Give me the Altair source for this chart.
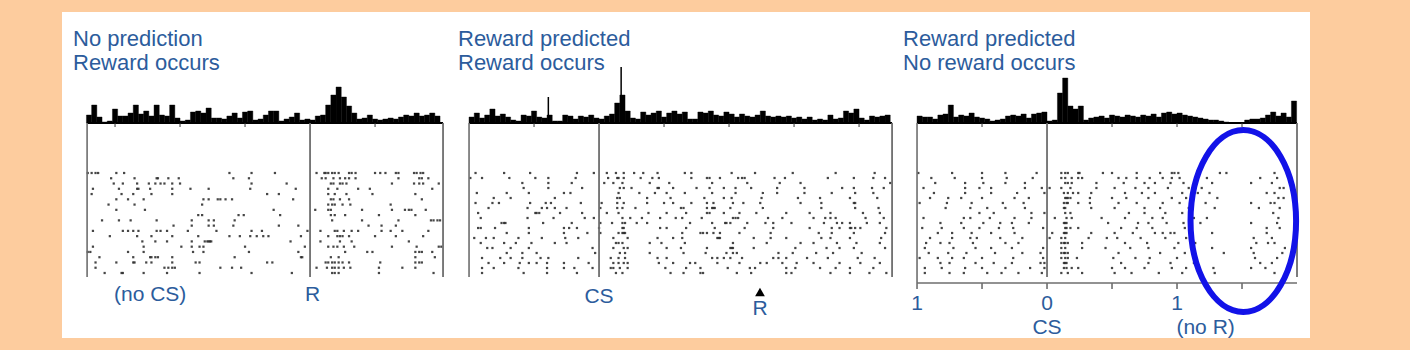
import altair as alt
import pandas as pd

PEACH = "#FDCC9E"
BLUE = "#2C5C9C"
FONT = "Liberation Sans"
BIN = 0.04

# ---------------- Panel 1: No prediction, reward occurs ----------------
P1_TITLE = ["No prediction", "Reward occurs"]
P1_DOMAIN = [-1.908, 1.115]
P1_EDGES = [-1.715, 1.023]
P1_EVENT = [0.0]
P1_BASE_TICKS = [-1.5, -1.0, -0.5, 0.5]
P1_LABELS = ["(no CS)", "R"]
P1_LABEL_T = [-1.23, 0.02]
P1_HIST_START = -1.72
P1_HIST = [8, 18, 6, 1, 2, 14, 7, 7, 10, 18, 9, 12, 7, 18, 8, 7, 18, 5, 2, 3,
           11, 12, 10, 15, 5, 5, 4, 7, 10, 5, 11, 12, 3, 4, 8, 12, 12, 2, 4, 6,
           10, 3, 4, 3, 7, 8, 18, 28, 36, 26, 17, 10, 4, 5, 8, 4, 3, 4, 5, 4,
           6, 8, 7, 10, 7, 8, 10, 7]
P1_ROWS = [
    [-1.71, -1.68, -1.65, -1.63, -1.49, -1.43, -0.62, -0.45, -0.27, 0.05, 0.11, 0.12, 0.14, 0.17, 0.19, 0.22, 0.30, 0.32, 0.35, 0.50, 0.54, 0.58, 0.66, 0.68, 0.80, 0.82, 0.85, 0.87],
    [-1.53, -1.35, -1.18, -1.17, -1.09, -1.01, -0.59, -0.47, 0.09, 0.12, 0.18, 0.23, 0.27, 0.30, 0.35, 0.68, 0.84, 0.86, 0.91],
    [-1.51, -1.44, -1.33, -1.24, -1.19, -1.15, -1.12, -1.06, -1.00, -0.45, -0.18, 0.16, 0.18, 0.23, 0.25, 0.28, 0.63, 0.80, 0.84, 0.87, 0.99],
    [-1.67, -1.47, -1.33, -1.32, -1.23, -1.06, -0.92, -0.78, -0.46, -0.11, 0.14, 0.21, 0.37, 0.46, 0.94],
    [-1.68, -1.45, -1.36, -1.22, -1.06, -0.33, -0.24, 0.14, 0.19, 0.28, 0.48, 0.81],
    [-1.49, -1.40, -1.28, -0.82, -0.78, -0.71, -0.69, -0.65, -0.60, -0.13, 0.16, 0.18, 0.23, 0.30, 0.86],
    [-1.55, -1.35, -0.83, 0.14, 0.17, 0.19, 0.25, 0.31, 0.62],
    [-1.49, -1.27, -0.28, 0.04, 0.14, 0.16, 0.40, 0.63, 0.73, 0.76, 0.78, 0.89],
    [-0.86, -0.83, -0.55, -0.51, -0.23, 0.16, 0.19, 0.27, 0.53, 0.81],
    [-1.60, -1.47, -1.38, -1.18, -0.91, -0.78, -0.74, -0.58, 0.17, 0.40, 0.68, 0.93, 0.95, 0.98, 1.00],
    [-1.05, -0.91, -0.78, -0.74, -0.59, -0.24, -0.09, 0.45, 0.55, 0.66],
    [-1.67, -1.44, -1.40, -1.36, -1.32, -1.18, -1.15, -1.10, -0.94, -0.72, -0.45, -0.37, -0.02, 0.08, 0.19, 0.21, 0.26, 0.32, 0.37, 0.55, 0.62, 0.71, 0.91],
    [-1.54, -1.33, -1.22, -1.06, -0.86, -0.62, -0.54, -0.46, -0.41, -0.36, -0.32, -0.07, 0.14, 0.21, 0.23, 0.25, 0.30, 0.50, 0.66, 0.87],
    [-1.29, -1.19, -1.10, -0.91, -0.81, -0.79, -0.78, -0.77, -0.76, -0.15, 0.08, 0.23, 0.32, 0.76],
    [-1.67, -1.28, -0.99, -0.91, -0.85, -0.82, -0.50, -0.04, 0.14, 0.18, 0.21, 0.26, 0.34, 0.63, 0.82, 0.99, 1.01],
    [-1.71, -1.69, -1.40, -1.28, -0.90, -0.82, -0.47, -0.09, 0.27, 0.44, 0.48, 0.81, 0.84, 0.86, 0.94],
    [-1.62, -1.36, -1.23, -1.22, -1.19, -1.17, -1.06, -0.58, -0.07, -0.06, 0.16, 0.22, 0.81, 0.96],
    [-1.65, -1.49, -1.36, -1.35, -1.26, -1.22, -1.06, -0.88, -0.85, -0.33, -0.29, 0.12, 0.14, 0.17, 0.19, 0.22, 0.25, 0.30, 0.54, 0.81, 0.84, 0.86],
    [-1.65, -1.12, -1.09, -1.06, -1.04, -0.69, -0.60, -0.53, 0.05, 0.13, 0.17, 0.19, 0.22, 0.26, 0.31, 0.53, 0.71, 0.81],
    [-1.58, -1.45, -1.44, -1.28, -1.10, -0.85, -0.45, -0.14, 0.17, 0.19, 0.22, 0.53, 0.95],
]

# ---------------- Panel 2: Reward predicted, reward occurs ----------------
P2_TITLE = ["Reward predicted", "Reward occurs"]
P2_DOMAIN = [-1.108, 2.315]
P2_EDGES = [-1.0, 2.254]
P2_EVENT = [0.0]
P2_BASE_TICKS = [-0.5, 0.5, 1.0, 1.5, 2.0]
P2_LABELS = ["CS"]
P2_LABEL_T = [0.0]
P2_REWARD_T = [1.238]
P2_REWARD_LABEL = ["R"]
P2_SPIKE_T = [-0.39, 0.17]
P2_SPIKE_H = [26, 56]
P2_HIST_START = -1.0
P2_HIST = [6, 10, 5, 8, 14, 7, 9, 6, 3, 2, 8, 7, 12, 6, 5, 8, 2, 2, 8, 7,
           4, 7, 6, 8, 5, 4, 7, 9, 20, 28, 12, 5, 4, 11, 8, 10, 12, 6, 10, 12,
           9, 11, 4, 4, 11, 10, 12, 8, 7, 11, 9, 6, 9, 7, 6, 8, 12, 7, 6, 7,
           6, 7, 5, 6, 4, 6, 3, 4, 3, 8, 4, 5, 12, 10, 14, 5, 3, 7, 6, 7, 8]
P2_ROWS = [
    [-0.95, -0.73, -0.53, -0.17, -0.04, 0.06, 0.13, 0.19, 0.27, 0.34, 0.45, 0.66, 0.71, 1.02, 1.20, 1.49, 1.82, 2.12],
    [-0.99, -0.90, -0.69, -0.49, -0.39, -0.18, 0.07, 0.14, 0.15, 0.19, 0.32, 0.41, 0.46, 0.71, 0.83, 0.85, 0.93, 1.07, 1.10, 1.12, 1.35, 1.43, 1.76, 1.96, 2.11, 2.20],
    [-0.59, -0.39, -0.21, 0.04, 0.11, 0.18, 0.39, 0.54, 0.87, 1.14, 1.39, 1.55, 2.24],
    [-0.58, -0.39, -0.13, 0.16, 0.19, 0.25, 0.45, 0.46, 0.57, 0.75, 0.85, 0.96, 1.05, 1.17, 1.37, 1.58, 1.87, 1.96, 2.10, 2.19],
    [-0.94, -0.71, -0.54, -0.27, -0.22, 0.15, 0.31, 0.43, 0.52, 0.66, 0.87, 1.05, 1.26, 1.37, 1.58, 1.79, 1.97, 2.11],
    [-0.81, -0.68, -0.34, 0.14, 0.16, 0.37, 0.55, 0.81, 0.96, 1.02, 1.25, 1.53, 1.70, 1.93, 2.14],
    [-0.95, -0.82, -0.77, -0.53, -0.41, -0.37, -0.14, 0.02, 0.14, 0.19, 0.37, 0.50, 0.57, 0.71, 0.83, 0.88, 1.03, 1.11, 1.24, 1.55, 1.71, 1.96, 1.97],
    [-0.85, -0.55, -0.44, -0.40, -0.34, -0.25, 0.01, 0.14, 0.18, 0.28, 0.63, 0.65, 0.83, 0.87, 0.88, 0.89, 1.01, 1.26, 1.71, 1.97, 2.15],
    [-0.93, -0.49, -0.48, -0.46, -0.30, -0.13, 0.06, 0.15, 0.38, 0.52, 0.67, 0.83, 0.85, 0.96, 1.08, 1.21, 1.44, 1.62, 1.78, 2.03, 2.16],
    [-0.91, -0.55, -0.35, -0.11, -0.04, 0.18, 0.24, 0.33, 0.47, 0.59, 0.64, 0.79, 1.03, 1.05, 1.07, 1.30, 1.41, 1.65, 1.74, 1.78, 1.82, 2.05, 2.19],
    [-0.75, -0.73, -0.72, -0.43, -0.21, 0.01, 0.10, 0.18, 0.20, 0.29, 0.37, 0.70, 0.87, 0.97, 0.98, 1.01, 1.14, 1.28, 1.34, 1.48, 1.73, 1.83, 1.87, 1.93, 2.06, 2.16],
    [-0.93, -0.91, -0.80, -0.54, -0.27, -0.23, -0.17, 0.00, 0.18, 0.19, 0.47, 0.52, 0.67, 0.89, 1.12, 1.34, 1.62, 1.79, 1.85, 1.93, 1.94, 1.97, 2.01, 2.21],
    [-0.71, -0.54, -0.27, -0.09, 0.01, 0.15, 0.18, 0.19, 0.20, 0.64, 0.78, 0.80, 0.83, 0.88, 0.93, 1.08, 1.32, 1.69, 1.79, 1.96, 2.20],
    [-0.96, -0.87, -0.81, -0.62, -0.44, -0.26, -0.16, 0.11, 0.22, 0.45, 0.57, 0.64, 0.91, 0.92, 0.93, 1.19, 1.32, 1.44, 1.71, 1.78, 1.93, 2.17],
    [-0.91, -0.73, -0.64, -0.52, -0.34, -0.25, 0.13, 0.15, 0.18, 0.39, 0.48, 0.66, 1.03, 1.29, 1.55, 1.65, 1.83, 1.98, 2.16],
    [-0.86, -0.82, -0.68, -0.54, -0.05, 0.11, 0.19, 0.22, 0.52, 0.63, 0.83, 1.01, 1.02, 1.03, 1.19, 1.51, 1.75, 1.85, 1.96, 2.20],
    [-0.71, -0.59, -0.48, -0.03, 0.16, 0.20, 0.39, 0.65, 0.82, 0.98, 1.03, 1.06, 1.38, 1.49, 1.67, 1.80, 2.02],
    [-0.90, -0.76, -0.68, -0.59, -0.45, -0.39, -0.16, 0.09, 0.15, 0.20, 0.45, 0.52, 0.87, 0.91, 0.96, 1.01, 1.10, 1.34, 1.38, 1.44, 1.60, 1.76, 1.99, 2.12],
    [-0.85, -0.73, -0.61, -0.54, -0.48, -0.40, -0.27, -0.08, 0.11, 0.15, 0.19, 0.22, 0.46, 0.57, 0.70, 0.74, 0.91, 1.08, 1.24, 1.29, 1.41, 1.52, 1.65, 1.85, 2.01, 2.16],
    [-0.90, -0.81, -0.62, -0.40, -0.27, -0.19, -0.05, 0.09, 0.11, 0.16, 0.22, 0.51, 0.67, 0.78, 0.99, 1.16, 1.20, 1.44, 1.51, 1.70, 1.82, 1.93, 2.11],
    [-0.90, -0.58, -0.40, -0.17, 0.13, 0.18, 0.55, 0.65, 0.78, 0.80, 1.06, 1.17, 1.44, 1.48, 1.78, 1.93, 2.08, 2.21],
]

# ---------------- Panel 3: Reward predicted, no reward occurs ----------------
P3_TITLE = ["Reward predicted", "No reward occurs"]
P3_DOMAIN = [-1.131, 2.023]
P3_EDGES = [-1.0, 1.923]
P3_EVENT = [0.0]
P3_BASE_TICKS = [-0.5, 0.5, 1.0, 1.5]
P3_AXIS_TICKS = [-1.0, -0.5, 0.0, 0.5, 1.0, 1.5]
P3_AXIS_LABEL_T = [-1.0, 0.0, 1.0]
P3_AXIS_LABELS = ["1", "0", "1"]
P3_LABELS = ["CS", "(no R)"]
P3_LABEL_T = [0.0, 1.22]
P3_CIRCLE_T = [1.51]
P3_HIST_START = -1.0
P3_HIST = [7, 6, 6, 4, 8, 9, 18, 6, 8, 7, 10, 6, 5, 4, 2, 3, 4, 7, 8, 7,
           9, 5, 9, 10, 11, 2, 3, 30, 45, 17, 14, 17, 3, 5, 6, 7, 5, 8, 7, 6,
           8, 7, 6, 8, 7, 9, 6, 10, 11, 9, 10, 8, 7, 6, 5, 4, 3, 3, 2, 1,
           0, 0, 0, 3, 4, 4, 5, 8, 11, 7, 10, 6, 22]
P3_ROWS = [
    [-0.99, -0.73, -0.50, -0.32, -0.08, 0.11, 0.14, 0.16, 0.24, 0.25, 0.43, 0.50, 0.69, 0.87, 0.96, 0.98, 1.01, 1.33, 1.38, 1.75],
    [-0.89, -0.71, -0.50, -0.31, -0.11, 0.11, 0.14, 0.19, 0.24, 0.27, 0.55, 0.61, 0.69, 0.79, 0.89, 0.96, 1.02, 1.23, 1.64, 1.77],
    [-0.86, -0.63, -0.49, -0.32, -0.17, 0.14, 0.16, 0.19, 0.38, 0.59, 0.75, 0.83, 0.95, 1.05, 1.27, 1.57, 1.73],
    [-0.95, -0.63, -0.52, -0.43, -0.17, -0.04, 0.02, 0.11, 0.18, 0.38, 0.52, 0.68, 0.78, 0.93, 1.09, 1.19, 1.79, 1.82],
    [-0.87, -0.63, -0.43, -0.23, -0.02, 0.13, 0.16, 0.20, 0.24, 0.34, 0.60, 0.73, 0.83, 1.04, 1.16, 1.25, 1.69, 1.75],
    [-0.90, -0.76, -0.66, -0.50, -0.25, -0.14, 0.14, 0.15, 0.16, 0.18, 0.33, 0.50, 0.61, 0.78, 0.96, 1.07, 1.31, 1.78, 1.82],
    [-0.98, -0.77, -0.58, -0.34, -0.18, 0.13, 0.15, 0.16, 0.24, 0.33, 0.55, 0.69, 0.89, 1.02, 1.22, 1.57, 1.72, 1.75],
    [-0.78, -0.59, -0.46, -0.32, -0.17, 0.13, 0.14, 0.34, 0.52, 0.75, 0.87, 1.09, 1.29, 1.63, 1.79],
    [-0.52, -0.41, -0.12, -0.02, 0.14, 0.18, 0.63, 0.75, 0.91, 1.04, 1.74],
    [-0.95, -0.64, -0.59, -0.44, -0.25, -0.12, 0.06, 0.15, 0.19, 0.42, 0.60, 0.81, 0.89, 1.13, 1.23, 1.78],
    [-0.82, -0.66, -0.49, -0.36, -0.27, -0.14, 0.13, 0.14, 0.15, 0.47, 0.70, 0.78, 0.92, 1.05, 1.18, 1.57, 1.77],
    [-0.96, -0.81, -0.64, -0.52, -0.37, -0.26, -0.03, 0.14, 0.15, 0.18, 0.24, 0.57, 0.69, 0.81, 1.06, 1.69, 1.79],
    [-0.84, -0.73, -0.58, -0.43, -0.25, 0.04, 0.13, 0.14, 0.15, 0.34, 0.52, 0.66, 0.83, 0.89, 0.95, 0.98, 1.27, 1.69],
    [-0.90, -0.73, -0.59, -0.54, -0.36, -0.19, 0.02, 0.11, 0.14, 0.32, 0.46, 0.54, 0.72, 0.91, 1.07, 1.59, 1.73],
    [-0.93, -0.82, -0.75, -0.57, -0.32, -0.22, 0.11, 0.13, 0.14, 0.16, 0.27, 0.60, 0.77, 1.01, 1.14, 1.61, 1.70, 1.75],
    [-0.94, -0.72, -0.55, -0.43, -0.27, -0.03, 0.11, 0.14, 0.27, 0.45, 0.64, 0.78, 0.98, 1.27, 1.57, 1.83],
    [-0.91, -0.76, -0.62, -0.40, -0.19, -0.05, 0.11, 0.13, 0.14, 0.16, 0.55, 0.87, 1.06, 1.36, 1.59, 1.81],
    [-0.98, -0.84, -0.73, -0.64, -0.50, -0.26, -0.03, 0.11, 0.14, 0.16, 0.23, 0.51, 0.68, 0.79, 1.00, 1.60, 1.77],
    [-0.82, -0.75, -0.55, -0.41, -0.27, -0.05, -0.02, 0.13, 0.14, 0.15, 0.57, 0.78, 0.95, 1.13, 1.64, 1.73],
    [-0.94, -0.81, -0.63, -0.50, -0.32, -0.13, -0.02, 0.13, 0.15, 0.19, 0.24, 0.50, 0.60, 0.75, 0.96, 1.07, 1.28, 1.57, 1.68],
    [-0.94, -0.75, -0.64, -0.46, -0.35, -0.22, -0.04, 0.11, 0.16, 0.27, 0.52, 0.65, 0.86, 1.04, 1.29, 1.75],
]

# ---------------- layout / style constants (pixels inside each panel) ----------------
H = 326
BASE_Y = 111
RASTER_TOP, RASTER_BOT = 161, 261
LINE_BOT = 265
LINE_COLOR = "#6e6e6e"
TITLE_SIZE = 22
LABEL_SIZE = 21
ELLIPSE = ("M0,-1C0.32,-1 0.58,-0.552 0.58,0C0.58,0.552 0.32,1 0,1"
           "C-0.32,1 -0.58,0.552 -0.58,0C-0.58,-0.552 -0.32,-1 0,-1Z")


def xenc(field, xs):
    return alt.X(field, type="quantitative", scale=xs, axis=None)


def build_panel(domain, title, title_x, hist_start, hist, rows, edges,
                events, base_ticks, labels, label_t, label_y, line_bot_left):
    xs = alt.Scale(domain=domain, nice=False, zero=False)
    hs = alt.Scale(domain=[0, 60], range=[BASE_Y, BASE_Y - 60], nice=False)
    rs = alt.Scale(domain=[0, len(rows) - 1], range=[RASTER_TOP, RASTER_BOT],
                   nice=False, zero=False)

    hist_df = pd.DataFrame({
        "t0": [hist_start + BIN * i for i in range(len(hist))],
        "t1": [hist_start + BIN * (i + 1) for i in range(len(hist))],
        "h": hist,
        "base": [0] * len(hist),
    })
    bars = alt.Chart(hist_df).mark_rect(color="black", stroke="black", strokeWidth=0.4).encode(
        x=xenc("t0", xs), x2="t1",
        y=alt.Y("h:Q", scale=hs, axis=None), y2="base:Q")

    raster_df = pd.DataFrame([(t, i) for i, r in enumerate(rows) for t in r],
                             columns=["t", "trial"])
    dots = alt.Chart(raster_df).mark_square(size=5, color="#262626", opacity=0.85).encode(
        x=xenc("t", xs), y=alt.Y("trial:Q", scale=rs, axis=None))

    base_df = pd.DataFrame({"a": [edges[0]], "b": [edges[1]]})
    baseline = alt.Chart(base_df).mark_rule(color="black", strokeWidth=2).encode(
        x=xenc("a", xs), x2="b", y=alt.value(BASE_Y))

    tick_df = pd.DataFrame({"t": base_ticks})
    bticks = alt.Chart(tick_df).mark_rule(color="#333", strokeWidth=1).encode(
        x=xenc("t", xs), y=alt.value(BASE_Y), y2=alt.value(BASE_Y + 4))

    edge_df = pd.DataFrame({"t": [edges[0]]})
    left_line = alt.Chart(edge_df).mark_rule(color=LINE_COLOR, strokeWidth=1.6).encode(
        x=xenc("t", xs), y=alt.value(BASE_Y), y2=alt.value(line_bot_left))
    vl_df = pd.DataFrame({"t": events + [edges[1]]})
    vlines = alt.Chart(vl_df).mark_rule(color=LINE_COLOR, strokeWidth=1.8).encode(
        x=xenc("t", xs), y=alt.value(BASE_Y), y2=alt.value(LINE_BOT))

    title_df = pd.DataFrame({"txt": title, "line": [0, 1]})
    ttl = alt.Chart(title_df).mark_text(align="left", baseline="alphabetic", font=FONT,
                                        fontSize=TITLE_SIZE, color=BLUE).encode(
        x=alt.value(title_x),
        y=alt.Y("line:Q", scale=alt.Scale(domain=[0, 1], range=[34, 58]), axis=None),
        text="txt:N")

    lab_df = pd.DataFrame({"t": label_t, "txt": labels})
    labs = alt.Chart(lab_df).mark_text(align="center", baseline="middle", font=FONT,
                                       fontSize=LABEL_SIZE, color=BLUE).encode(
        x=xenc("t", xs), y=alt.value(label_y), text="txt:N")

    layers = [bars, baseline, bticks, dots, left_line, vlines, ttl, labs]
    return layers, xs, hs


# Panel 1
l1, xs1, hs1 = build_panel(P1_DOMAIN, P1_TITLE, 11, P1_HIST_START, P1_HIST, P1_ROWS,
                           P1_EDGES, P1_EVENT, P1_BASE_TICKS, P1_LABELS, P1_LABEL_T, 283, LINE_BOT)
panel1 = alt.layer(*l1).resolve_scale(y="independent").properties(width=393, height=H)

# Panel 2
l2, xs2, hs2 = build_panel(P2_DOMAIN, P2_TITLE, 3, P2_HIST_START, P2_HIST, P2_ROWS,
                           P2_EDGES, P2_EVENT, P2_BASE_TICKS, P2_LABELS, P2_LABEL_T, 285, LINE_BOT)
spike_df = pd.DataFrame({"t": P2_SPIKE_T, "h": P2_SPIKE_H, "base": [0, 0]})
spikes = alt.Chart(spike_df).mark_rule(color="black", strokeWidth=1.5).encode(
    x=xenc("t", xs2), y=alt.Y("h:Q", scale=hs2, axis=None), y2="base:Q")
rew_df = pd.DataFrame({"t": P2_REWARD_T, "txt": P2_REWARD_LABEL})
arrow = alt.Chart(rew_df).mark_point(shape="triangle-up", size=95, filled=True,
                                     color="black", opacity=1).encode(
    x=xenc("t", xs2), y=alt.value(280))
rlab = alt.Chart(rew_df).mark_text(align="center", baseline="middle", font=FONT,
                                   fontSize=LABEL_SIZE, color=BLUE).encode(
    x=xenc("t", xs2), y=alt.value(297), text="txt:N")
panel2 = alt.layer(*l2, spikes, arrow, rlab).resolve_scale(y="independent").properties(width=445, height=H)

# Panel 3
l3, xs3, hs3 = build_panel(P3_DOMAIN, P3_TITLE, 3, P3_HIST_START, P3_HIST, P3_ROWS,
                           P3_EDGES, P3_EVENT, P3_BASE_TICKS, P3_LABELS, P3_LABEL_T, 316, 271)
ax_df = pd.DataFrame({"a": [P3_EDGES[0]], "b": [P3_EDGES[1]]})
axis_line = alt.Chart(ax_df).mark_rule(color=LINE_COLOR, strokeWidth=1.6).encode(
    x=xenc("a", xs3), x2="b", y=alt.value(271))
axt_df = pd.DataFrame({"t": P3_AXIS_TICKS})
axis_ticks = alt.Chart(axt_df).mark_rule(color=LINE_COLOR, strokeWidth=1.6).encode(
    x=xenc("t", xs3), y=alt.value(271), y2=alt.value(277))
axl_df = pd.DataFrame({"t": P3_AXIS_LABEL_T, "txt": P3_AXIS_LABELS})
axis_labels = alt.Chart(axl_df).mark_text(align="center", baseline="middle", font=FONT,
                                          fontSize=LABEL_SIZE, color=BLUE).encode(
    x=xenc("t", xs3), y=alt.value(292), text="txt:N")
circ_df = pd.DataFrame({"t": P3_CIRCLE_T})
ellipse = alt.Chart(circ_df).mark_point(shape=ELLIPSE, size=33124, filled=False,
                                        stroke="#1212E8", strokeWidth=6, opacity=1).encode(
    x=xenc("t", xs3), y=alt.value(209))
panel3 = alt.layer(*l3, axis_line, axis_ticks, axis_labels, ellipse).resolve_scale(
    y="independent").properties(width=410, height=H)

chart = alt.hconcat(panel1, panel2, panel3, spacing=0, bounds="flush").properties(
    background=PEACH,
    padding={"left": 62, "top": 12, "right": 100, "bottom": 12},
).configure_view(fill="white", strokeWidth=0)

chart.save("out.html", embed_options={"renderer": "svg", "actions": False})
